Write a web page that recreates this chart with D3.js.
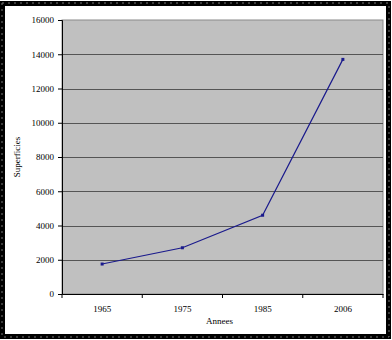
<!DOCTYPE html>
<html>
<head>
<meta charset="utf-8">
<script src="https://cdn.jsdelivr.net/npm/d3@7"></script>
<style>
  html, body { margin: 0; padding: 0; background: #fff; }
  svg { display: block; }
</style>
</head>
<body>
<svg width="392" height="340"></svg>
<script>
// données
const annees = ["1965", "1975", "1985", "2006"];
const superficies = [1750, 2700, 4600, 13700];
const yTicks = [0, 2000, 4000, 6000, 8000, 10000, 12000, 14000, 16000];

const svg = d3.select("svg");
const W = 392, H = 340;
const plot = { left: 62, top: 20, right: 383, bottom: 294 };

// cadre extérieur
svg.append("rect")
    .attr("x", 2).attr("y", 3)
    .attr("width", W - 5).attr("height", H - 6)
    .attr("fill", "#fff")
    .attr("stroke", "#000")
    .attr("stroke-width", 4);
svg.append("rect")
    .attr("x", 2).attr("y", 3)
    .attr("width", W - 5).attr("height", H - 6)
    .attr("fill", "none")
    .attr("stroke", "#777")
    .attr("stroke-width", 1)
    .attr("stroke-dasharray", "2,4");
svg.append("rect")
    .attr("x", 4.5).attr("y", 5.5)
    .attr("width", W - 10).attr("height", H - 11)
    .attr("fill", "#fff")
    .attr("stroke", "#000")
    .attr("stroke-width", 1);

// échelles
const x = d3.scaleBand()
    .domain(annees)
    .range([plot.left, plot.right]);
const y = d3.scaleLinear()
    .domain([0, 16000])
    .range([plot.bottom, plot.top]);

// zone de traçage
svg.append("rect")
    .attr("x", plot.left).attr("y", plot.top)
    .attr("width", plot.right - plot.left)
    .attr("height", plot.bottom - plot.top)
    .attr("fill", "#c0c0c0")
    .attr("stroke", "#8a8a8a")
    .attr("stroke-width", 1);

// quadrillage
svg.append("g")
    .selectAll("line")
    .data(yTicks.filter(d => d > 0 && d < 16000))
    .enter()
    .append("line")
    .attr("x1", plot.left).attr("x2", plot.right)
    .attr("y1", d => Math.round(y(d)) + 0.5)
    .attr("y2", d => Math.round(y(d)) + 0.5)
    .attr("stroke", "#555")
    .attr("stroke-width", 1);

// axe Y
const yAxis = svg.append("g")
    .attr("transform", `translate(${plot.left},0)`)
    .call(d3.axisLeft(y).tickValues(yTicks).tickSize(4).tickPadding(4).tickFormat(d3.format("d")));
yAxis.select(".domain").attr("stroke", "#000");
yAxis.selectAll("text")
    .style("font-family", "'Liberation Serif', 'DejaVu Serif', serif")
    .style("font-size", "9px")
    .attr("fill", "#000");

// axe X
const xAxis = svg.append("g")
    .attr("transform", `translate(0,${plot.bottom})`)
    .call(d3.axisBottom(x).tickSize(0).tickPadding(12));
xAxis.select(".domain").attr("stroke", "#000");
xAxis.selectAll("text")
    .style("font-family", "'Liberation Serif', 'DejaVu Serif', serif")
    .style("font-size", "9px")
    .attr("fill", "#000");
// graduations entre les catégories
xAxis.selectAll(".sep")
    .data(annees.concat(["fin"]))
    .enter()
    .append("line")
    .attr("class", "sep")
    .attr("x1", (d, i) => plot.left + i * x.bandwidth())
    .attr("x2", (d, i) => plot.left + i * x.bandwidth())
    .attr("y1", 0).attr("y2", 4)
    .attr("stroke", "#000");

// courbe
const line = d3.line()
    .x((d, i) => x(annees[i]) + x.bandwidth() / 2)
    .y(d => y(d));
svg.append("path")
    .datum(superficies)
    .attr("d", line)
    .attr("fill", "none")
    .attr("stroke", "#1a1a8c")
    .attr("stroke-width", 1.2);

svg.selectAll(".pt")
    .data(superficies)
    .enter()
    .append("rect")
    .attr("class", "pt")
    .attr("x", (d, i) => x(annees[i]) + x.bandwidth() / 2 - 1.5)
    .attr("y", d => y(d) - 1.5)
    .attr("width", 3).attr("height", 3)
    .attr("fill", "#1a1a8c");

// titres des axes
svg.append("text")
    .attr("x", (plot.left + plot.right) / 2 - 3)
    .attr("y", 324)
    .attr("text-anchor", "middle")
    .style("font-family", "'Liberation Serif', 'DejaVu Serif', serif")
    .style("font-size", "9px")
    .text("Annees");

svg.append("text")
    .attr("transform", `translate(20, ${(plot.top + plot.bottom) / 2}) rotate(-90)`)
    .attr("text-anchor", "middle")
    .style("font-family", "'Liberation Serif', 'DejaVu Serif', serif")
    .style("font-size", "9px")
    .text("Superficies");
</script>
</body>
</html>
